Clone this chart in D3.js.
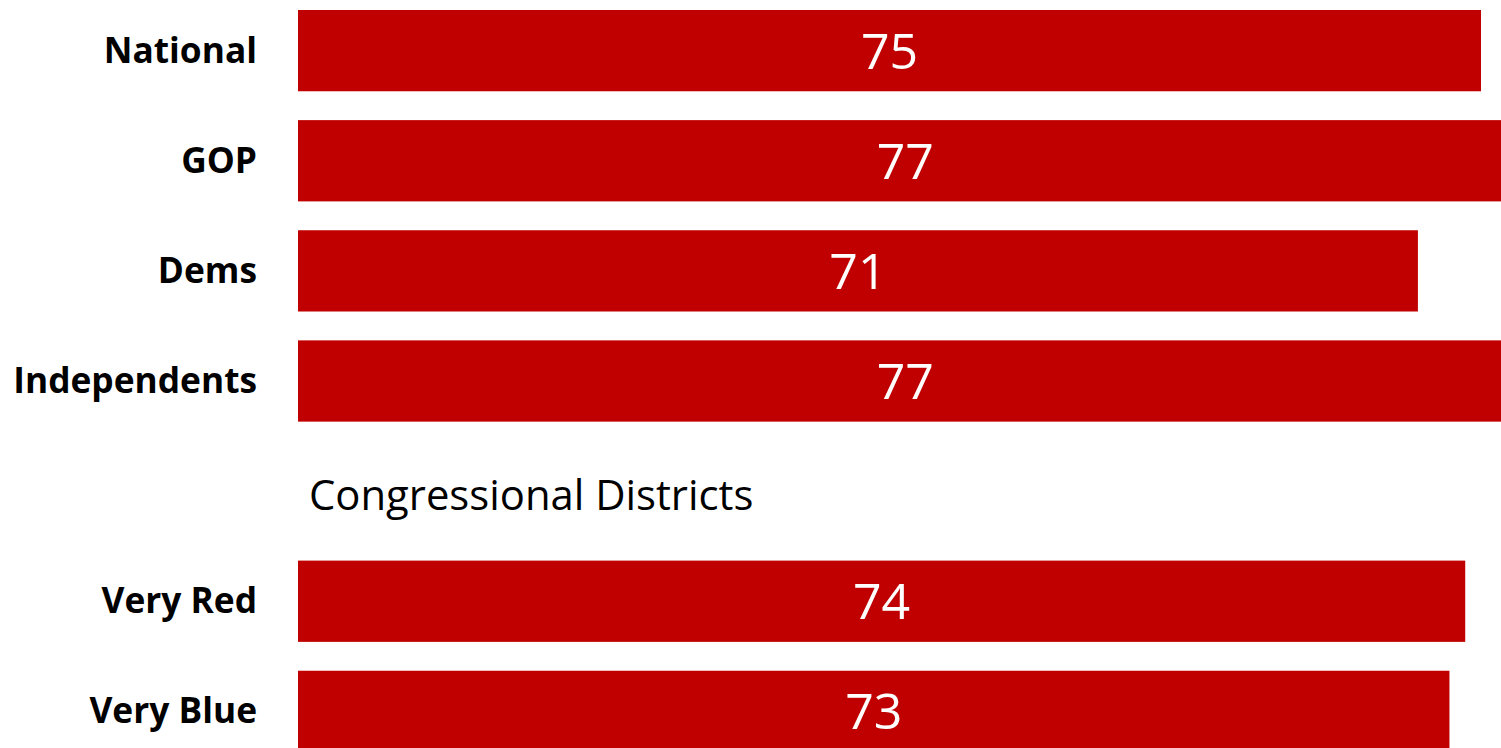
<!DOCTYPE html>
<html>
<head>
<meta charset="utf-8">
<script src="https://cdn.jsdelivr.net/npm/d3@7/dist/d3.min.js"></script>
<style>
  html, body { margin: 0; padding: 0; background: #fff; overflow: hidden; }
  svg { display: block; }
</style>
</head>
<body>
<svg id="chart" width="1501" height="748"></svg>
<script>
// Data
const categories = ["National", "GOP", "Dems", "Independents", "__header__", "Very Red", "Very Blue"];
const values = [75, 77, 71, 77, null, 74, 73];
const sectionTitle = "Congressional Districts";

const W = 1501, H = 748;
const svg = d3.select("#chart");

const x = d3.scaleLinear().domain([0, 75]).range([298, 1481]);
const y = d3.scaleBand().domain(categories).range([10, 752]).paddingInner(0.262).paddingOuter(0);

const rows = categories.map((c, i) => ({ cat: c, v: values[i] })).filter(d => d.v !== null);

svg.selectAll("rect.bar").data(rows).join("rect")
  .attr("class", "bar")
  .attr("x", x(0))
  .attr("y", d => y(d.cat))
  .attr("width", d => x(d.v) - x(0))
  .attr("height", y.bandwidth())
  .attr("fill", "#C00000");

svg.selectAll("text.val").data(rows).join("text")
  .attr("class", "val")
  .attr("x", d => (x(0) + x(d.v)) / 2)
  .attr("y", d => y(d.cat) + y.bandwidth() / 2 + 18)
  .attr("text-anchor", "middle")
  .attr("fill", "#fff")
  .style("font-family", "'Open Sans', sans-serif")
  .style("font-size", "50px")
  .text(d => d.v);

svg.selectAll("text.lab").data(rows).join("text")
  .attr("class", "lab")
  .attr("x", 257)
  .attr("y", d => y(d.cat) + y.bandwidth() / 2 + 12)
  .attr("text-anchor", "end")
  .attr("fill", "#000")
  .style("font-family", "'Open Sans', sans-serif")
  .style("font-weight", "bold")
  .style("font-size", "35.3px")
  .text(d => d.cat);

svg.append("text")
  .attr("x", 309)
  .attr("y", y("__header__") + y.bandwidth() / 2 + 19)
  .attr("fill", "#000")
  .style("font-family", "'Open Sans', sans-serif")
  .style("font-size", "41.8px")
  .text(sectionTitle);
</script>
</body>
</html>
